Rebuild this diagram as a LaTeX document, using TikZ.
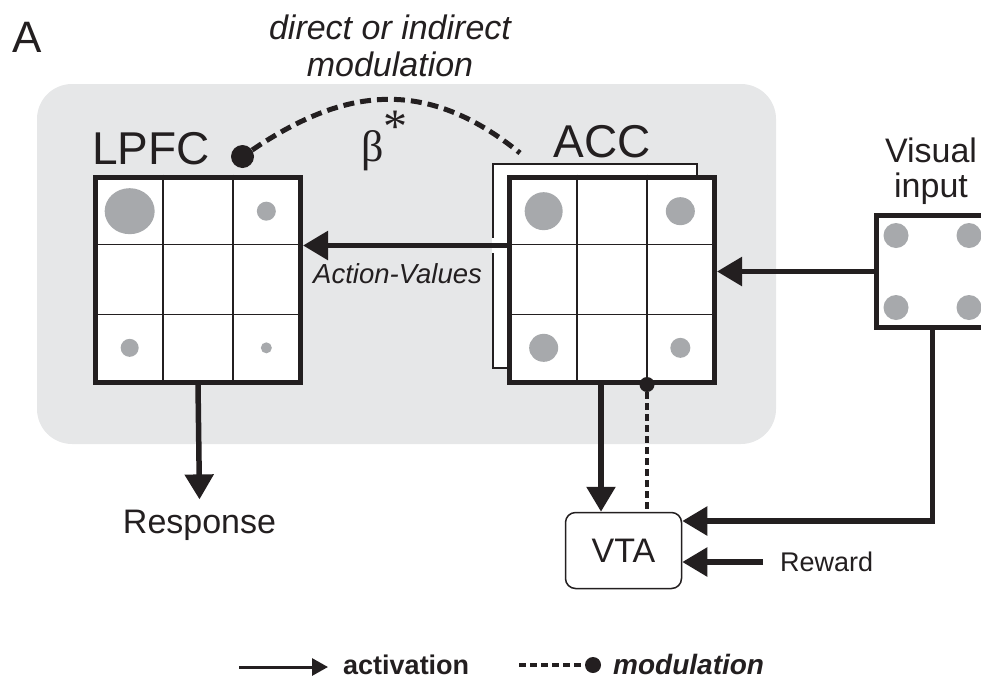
\documentclass[tikz,border=0pt]{standalone}
\usepackage{fontspec}
\setmainfont{Liberation Sans}
\newfontfamily\grkfont{Liberation Serif}
\usepackage{tikz}
\usetikzlibrary{calc,arrows.meta}
\definecolor{panel}{HTML}{E6E7E8}
\definecolor{blobgray}{HTML}{A7A9AC}
\definecolor{ink}{HTML}{231F20}
\tikzset{
  area/.style={draw=ink, fill=white, line width=5pt, minimum size=205pt, inner sep=0pt},
  plate/.style={draw=ink, fill=white, line width=2.5pt, minimum size=204pt, inner sep=0pt},
  cell/.style={draw=ink, line width=1.5pt},
  blob/.style={fill=blobgray},
  act/.style={draw=ink, line width=5.5pt, -{Triangle[length=25pt,width=28pt]}},
  actleg/.style={draw=ink, line width=3pt, -{Triangle[length=16pt,width=17pt]}},
  modarc/.style={draw=ink, line width=5pt, dash pattern=on 11pt off 6pt},
  modline/.style={draw=ink, line width=3.5pt, dash pattern=on 7pt off 4pt},
  moddot/.style={circle, fill=ink, inner sep=0pt, minimum size=15pt},
  big/.style={text=ink, inner sep=0pt, font=\fontsize{46}{46}\selectfont},
  lab/.style={text=ink, inner sep=0pt, font=\fontsize{34}{35}\selectfont},
  labi/.style={text=ink, inner sep=0pt, font=\fontsize{34}{37}\selectfont\itshape},
  labs/.style={text=ink, inner sep=0pt, font=\fontsize{27}{30}\selectfont},
}

\begin{document}
\begin{tikzpicture}[x=1pt,y=-1pt]
  \useasboundingbox (0,0) rectangle (981,683);
  % panel
  \fill[panel, rounded corners=35pt] (37,84) rectangle (776,444);

  % areas
  \def\cw{68.33}
  \node[plate] (accback) at (595,266) {};
  \fill[white] (491.5,238) rectangle (495.5,253);
  \node[area] (lpfc) at (198,279.5) {};
  \node[area] (acc) at (612,279.5) {};
  \foreach \g in {lpfc,acc}{
    \foreach \k in {1,2}{
      \draw[cell] ($(\g.north west)!\k/3!(\g.north east)$) -- ($(\g.south west)!\k/3!(\g.south east)$);
      \draw[cell] ($(\g.north west)!\k/3!(\g.south west)$) -- ($(\g.north east)!\k/3!(\g.south east)$);
    }
  }

  % activity in LPFC and ACC
  \foreach \i/\j/\rx/\ry in {-1/-1/25/23, 1/-1/9.5/9.5, -1/1/9/9, 1/1/5.5/5.5}
    \fill[blob] ($(lpfc)+(\i*\cw,\j*\cw)$) ellipse [x radius=\rx pt, y radius=\ry pt];
  \foreach \i/\j/\rx/\ry in {-1/-1/19/19, 1/-1/14.5/14, -1/1/14.5/14, 1/1/10/10}
    \fill[blob] ($(acc)+(\i*\cw,\j*\cw)$) ellipse [x radius=\rx pt, y radius=\ry pt];

  % visual input
  \node[area, minimum size=112pt] (vis) at (932.5,271.5) {};
  \foreach \i/\j in {-1/-1, 1/-1, -1/1, 1/1}
    \fill[blob] ($(vis)+(\i*36.5,\j*36)$) circle [radius=12.5pt];

  % VTA
  \node[lab, draw=ink, line width=1.5pt, rounded corners=10pt, minimum width=116pt, minimum height=76pt] (vta) at (623.5,550.5) {VTA};

  % labels
  \node[text=ink, inner sep=0pt, anchor=base west, font=\fontsize{44}{44}\selectfont] (panelA) at (12,52) {A};
  \node[labi, anchor=north, align=center] (modtxt) at (390,15) {direct or indirect\\modulation};
  \node[big, anchor=base] (lpfclab) at (151,164) {LPFC};
  \node[big, anchor=base] (acclab) at (602,157) {ACC};
  \node[lab, anchor=north, align=center] (vislab) at (931,137.5) {Visual\\input};
  \node[text=ink, inner sep=0pt, anchor=base west, font=\fontsize{44}{44}\selectfont\grkfont] (beta) at (361,161) {β\raisebox{19pt}{\fontsize{48}{48}\selectfont *}};
  \node[labs, anchor=base west, font=\fontsize{27.5}{30}\selectfont\itshape] (avlab) at (313,283) {Action-Values};
  \node[lab, anchor=base] (resp) at (199.5,533) {Response};
  \node[labs, anchor=west] (reward) at (780,562) {Reward};

  % activation
  \coordinate (avrow) at (0,245.5);
  \draw[act] (acc.west |- avrow) -- (lpfc.east |- avrow);
  \draw[act] (vis.west) -- (acc.east |- vis.west);
  \draw[act] (lpfc.south) -- ([yshift=10pt]resp.north);
  \coordinate (accout) at ([xshift=-11pt]acc.south);
  \draw[act] (accout) -- (accout |- vta.north);
  \draw[act] (vis.south) |- ([yshift=29.5pt]vta.east);
  \coordinate (rewin) at ([xshift=-17pt]reward.west);
  \draw[act] (rewin) -- (rewin -| vta.east);

  % modulation
  \node[moddot, minimum size=23pt] (lpfcdot) at (242.5,156.5) {};
  \coordinate (arcend) at (520,153);
  \draw[modarc] (lpfcdot) .. controls (344,88) and (425,76) .. (arcend);
  \node[moddot] (accdot) at ($(acc.south west)!2/3!(acc.south east)$) {};
  \draw[modline] (accdot) -- (accdot |- vta.north);

  % legend
  \coordinate (legact) at (239,667);
  \node[labs, anchor=base west, font=\fontsize{27}{30}\selectfont\bfseries] (actlab) at (343,674) {activation};
  \draw[actleg] (legact) -- ([xshift=-15pt]actlab.west |- legact);
  \coordinate (legmod) at (519,665);
  \node[moddot, minimum size=16pt] (legdot) at (593,665) {};
  \draw[modline] (legmod) -- (legdot);
  \node[labs, anchor=base west, font=\fontsize{28}{30}\selectfont\bfseries\itshape] (modlab) at (613,674) {modulation};
\end{tikzpicture}
\end{document}
